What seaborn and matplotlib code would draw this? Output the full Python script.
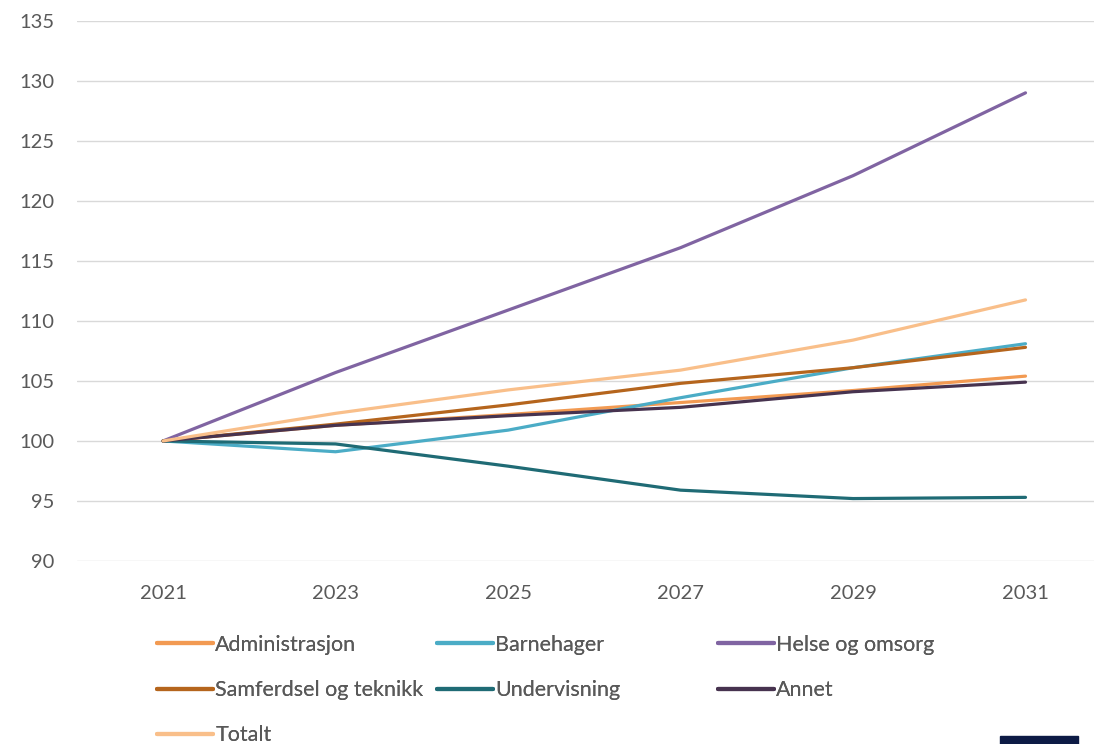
import pandas as pd
import numpy as np
import matplotlib.pyplot as plt
import seaborn as sns
from matplotlib.lines import Line2D
from matplotlib.patches import Rectangle

# Data (index, 2021 = 100)
years = [2021, 2023, 2025, 2027, 2029, 2031]
administrasjon = [100, 101.3, 102.2, 103.2, 104.2, 105.4]
barnehager = [100, 99.1, 100.9, 103.6, 106.1, 108.1]
helse = [100, 105.7, 110.9, 116.1, 122.1, 129.0]
samferdsel = [100, 101.4, 103.0, 104.8, 106.1, 107.8]
undervisning = [100, 99.75, 97.9, 95.9, 95.2, 95.3]
annet = [100, 101.3, 102.1, 102.8, 104.1, 104.9]
totalt = [100, 102.3, 104.25, 105.9, 108.4, 111.75]

series = {
    'Administrasjon': administrasjon,
    'Barnehager': barnehager,
    'Helse og omsorg': helse,
    'Samferdsel og teknikk': samferdsel,
    'Undervisning': undervisning,
    'Annet': annet,
    'Totalt': totalt,
}
colors = {
    'Administrasjon': '#F29A52',
    'Barnehager': '#4BACC6',
    'Helse og omsorg': '#8064A2',
    'Samferdsel og teknikk': '#B5651D',
    'Undervisning': '#1F6B75',
    'Annet': '#47334F',
    'Totalt': '#F9BF8A',
}

rows = []
for name, vals in series.items():
    for y, v in zip(years, vals):
        rows.append({'Year': y, 'Index': v, 'Sektor': name})
df = pd.DataFrame(rows)

sns.set_style('white')
plt.rcParams['font.family'] = ['Lato', 'DejaVu Sans']

fig = plt.figure(figsize=(10.99, 7.44), dpi=100)
ax = fig.add_axes([0.0699, 0.246, 0.926, 0.726])

sns.lineplot(data=df, x='Year', y='Index', hue='Sektor', palette=colors,
             linewidth=2.3, legend=False, ax=ax)

ax.set_xlim(2020.0, 2031.8)
ax.set_ylim(90, 135)
ax.set_yticks(np.arange(90, 136, 5))
ax.set_xticks(years)
ax.set_xticklabels([str(y) for y in years])
ax.grid(axis='y', color='#D9D9D9', linewidth=1)
ax.set_axisbelow(True)
for s in ax.spines.values():
    s.set_visible(False)
ax.tick_params(axis='y', length=0, pad=16, labelsize=14.5, labelcolor='#595959')
ax.tick_params(axis='x', length=0, pad=17, labelsize=14.5, labelcolor='#595959')
ax.set_xlabel('')
ax.set_ylabel('')

# legend laid out like the original: three fixed columns, filled row by row
legend_cols = [
    (157, ['Administrasjon', 'Samferdsel og teknikk', 'Totalt']),
    (437, ['Barnehager', 'Undervisning']),
    (718, ['Helse og omsorg', 'Annet']),
]
W, H = 1099, 744
for x0, names in legend_cols:
    handles = [Line2D([0], [0], color=colors[n], linewidth=3) for n in names]
    leg = fig.legend(handles, names, loc='upper left',
                     bbox_to_anchor=(x0 / W, 1 - 635 / H),
                     frameon=False, fontsize=15.5, handlelength=2.6,
                     handletextpad=0.1, labelspacing=1.17, borderpad=0,
                     borderaxespad=0)
    for t in leg.get_texts():
        t.set_color('#595959')
    fig.add_artist(leg)

# cropped dark box at bottom right
fig.add_artist(Rectangle((1000 / W, 0), 78 / W, 8 / H, transform=fig.transFigure,
                         color='#0D1B45'))

fig.savefig('out.png', dpi=100)
